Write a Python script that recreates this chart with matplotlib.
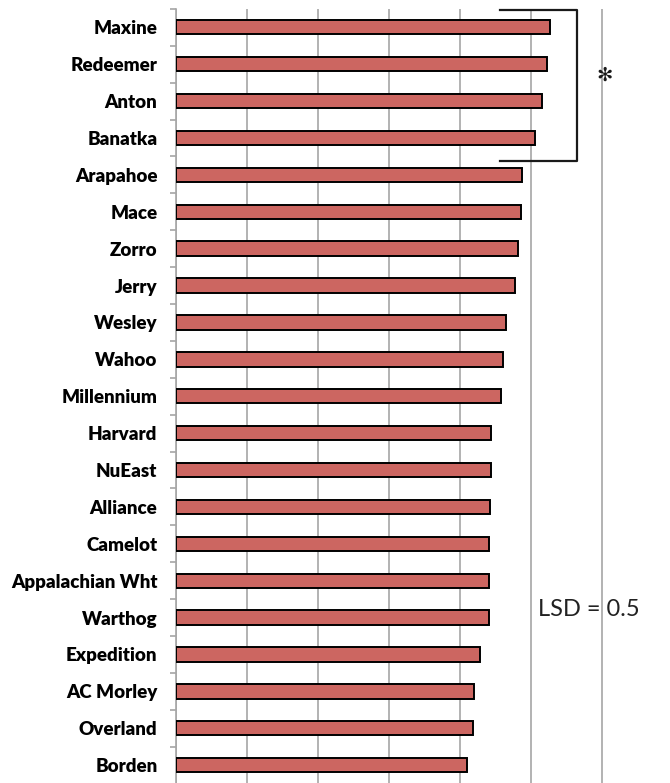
import matplotlib
matplotlib.use("Agg")
import matplotlib.pyplot as plt
import numpy as np

# cultivars, top to bottom as shown
cultivars = ["Maxine", "Redeemer", "Anton", "Banatka", "Arapahoe", "Mace", "Zorro",
             "Jerry", "Wesley", "Wahoo", "Millennium", "Harvard", "NuEast", "Alliance",
             "Camelot", "Appalachian Wht", "Warthog", "Expedition", "AC Morley",
             "Overland", "Borden"]
# values (gridline = 1 unit)
values = [5.28, 5.23, 5.16, 5.06, 4.88, 4.86, 4.83, 4.78, 4.66, 4.61, 4.59,
          4.45, 4.44, 4.43, 4.42, 4.41, 4.41, 4.29, 4.20, 4.19, 4.10]

lsd_text = "LSD = 0.5"
grid_col = "#a6a6a6"
bar_col = "#cc6661"

fig = plt.figure(figsize=(6.7, 7.83), dpi=100)
ax = fig.add_axes([175.5 / 670, -0.0008, 1 - 175.5 / 670, 0.9895])

y = np.arange(len(cultivars))
ax.barh(y, values, height=0.39, color=bar_col, edgecolor="black", linewidth=1.4, zorder=3)

ax.set_ylim(len(cultivars) - 0.5, -0.5)
ax.set_xlim(0, (670 - 175.5) / 71)

ax.set_xticks(np.arange(0, 7))
ax.xaxis.grid(True, color=grid_col, linewidth=1.2)
ax.tick_params(axis="x", length=0, labelbottom=False)

ax.set_yticks(y)
ax.set_yticklabels(cultivars, fontfamily="Lato", fontweight="heavy", fontsize=13.5)
ax.set_yticks(np.arange(-0.5, len(cultivars)), minor=True)
ax.tick_params(axis="y", which="major", length=0, pad=13)
ax.tick_params(axis="y", which="minor", length=4, color=grid_col, width=1.2)

for s in ["top", "right", "bottom"]:
    ax.spines[s].set_visible(False)
ax.spines["left"].set_color(grid_col)
ax.spines["left"].set_linewidth(1.2)

# bracket over the top group
ax.plot([4.57, 5.65, 5.65, 4.57], [-0.46, -0.46, 3.62, 3.62], color="#1a1a1a",
        linewidth=1.6, clip_on=False, zorder=4)
ax.text(6.05, 1.31, "✻", fontsize=14, ha="center", va="center", color="#1a1a1a",
        fontfamily="DejaVu Sans", fontweight="bold")

ax.text(5.11, 15.79, lsd_text, fontsize=17, fontfamily="Lato", color="#222222",
        ha="left", va="center")

fig.savefig("out.png", dpi=100)
